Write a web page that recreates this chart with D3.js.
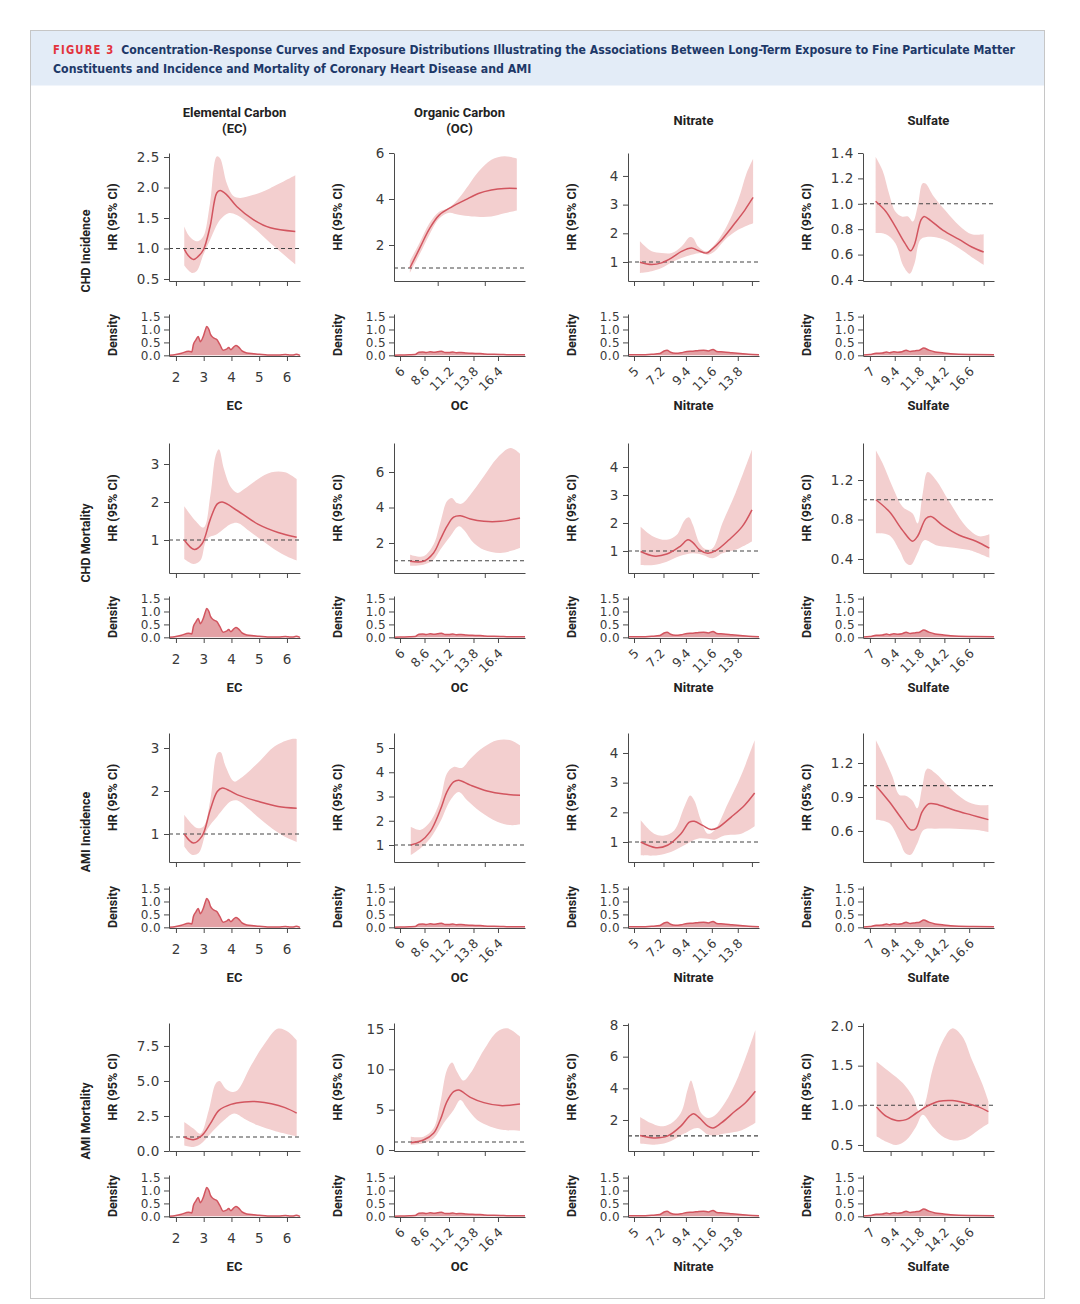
<!DOCTYPE html>
<html>
<head>
<meta charset="utf-8">
<script src="https://cdn.jsdelivr.net/npm/d3@7"></script>
<style>
  body { margin: 0; background: #fff; }
  svg { display: block; }
</style>
</head>
<body>
<div id="chart"></div>
<script>
// ---- categories / labels
var pollutants = ["EC", "OC", "Nitrate", "Sulfate"];
var columnTitles = [["Elemental Carbon", "(EC)"], ["Organic Carbon", "(OC)"], ["Nitrate"], ["Sulfate"]];
var outcomes = ["CHD Incidence", "CHD Mortality", "AMI Incidence", "AMI Mortality"];

// ---- x axis ticks (HR panels have unlabelled ticks, density panels labelled)
var hrTicksX = [[2, 3, 4, 5, 6], [10, 15], [5, 7.5, 10, 12.5, 15], [9, 12, 15, 18]];
var densTicksX = [[2, 3, 4, 5, 6], [6, 8.6, 11.2, 13.8, 16.4], [5, 7.2, 9.4, 11.6, 13.8], [7, 9.4, 11.8, 14.2, 16.6]];
var densTickLabelsX = [["2", "3", "4", "5", "6"], ["6", "8.6", "11.2", "13.8", "16.4"],
                       ["5", "7.2", "9.4", "11.6", "13.8"], ["7", "9.4", "11.8", "14.2", "16.6"]];
var densTicksY = [0, 0.5, 1, 1.5];
var densTickLabelsY = ["0.0", "0.5", "1.0", "1.5"];

// ---- y ticks of HR panels, [row][col]
var hrTicksY = [
  [[0.5, 1, 1.5, 2, 2.5], [2, 4, 6], [1, 2, 3, 4], [0.4, 0.6, 0.8, 1, 1.2, 1.4]],
  [[1, 2, 3], [2, 4, 6], [1, 2, 3, 4], [0.4, 0.8, 1.2]],
  [[1, 2, 3], [1, 2, 3, 4, 5], [1, 2, 3, 4], [0.6, 0.9, 1.2]],
  [[0, 2.5, 5, 7.5], [0, 5, 10, 15], [2, 4, 6, 8], [0.5, 1, 1.5, 2]]
];
var hrTickLabelsY = [
  [["0.5", "1.0", "1.5", "2.0", "2.5"], ["2", "4", "6"], ["1", "2", "3", "4"], ["0.4", "0.6", "0.8", "1.0", "1.2", "1.4"]],
  [["1", "2", "3"], ["2", "4", "6"], ["1", "2", "3", "4"], ["0.4", "0.8", "1.2"]],
  [["1", "2", "3"], ["1", "2", "3", "4", "5"], ["1", "2", "3", "4"], ["0.6", "0.9", "1.2"]],
  [["0.0", "2.5", "5.0", "7.5"], ["0", "5", "10", "15"], ["2", "4", "6", "8"], ["0.5", "1.0", "1.5", "2.0"]]
];

// ---- exposure densities (same in every row)
var densityEC = [[1.75,0.0],[2.0,0.03],[2.2,0.08],[2.45,0.16],[2.57,0.13],[2.63,0.42],[2.72,0.6],[2.8,0.73],[2.88,0.53],
  [2.98,0.72],[3.05,0.95],[3.11,1.12],[3.18,1.02],[3.25,0.8],[3.35,0.68],[3.48,0.6],[3.58,0.42],[3.7,0.2],[3.82,0.24],
  [3.9,0.3],[3.98,0.22],[4.06,0.3],[4.16,0.38],[4.25,0.33],[4.38,0.17],[4.55,0.09],[4.8,0.06],[5.0,0.04],[5.3,0.01],
  [5.7,0.01],[5.95,0.03],[6.05,0.02],[6.2,0.01],[6.33,0.04],[6.47,0.0]];
var densityOC = [[5.36,0.0],[6,0.01],[7,0.02],[7.6,0.03],[8.0,0.12],[8.4,0.13],[8.8,0.11],[9.2,0.14],[9.6,0.12],[10.0,0.14],
  [10.4,0.16],[10.8,0.11],[11.2,0.11],[11.6,0.13],[12.0,0.1],[12.5,0.11],[13,0.09],[13.5,0.08],[14,0.07],[14.5,0.07],
  [15,0.05],[15.5,0.04],[16,0.04],[17,0.03],[18,0.02],[19.27,0.02]];
var densityNitrate = [[4.49,0.02],[5.5,0.02],[6.5,0.04],[7.2,0.07],[7.55,0.17],[7.8,0.2],[8.1,0.12],[8.5,0.08],[9.0,0.1],
  [9.5,0.15],[10.0,0.16],[10.5,0.19],[10.9,0.2],[11.3,0.17],[11.7,0.23],[12.0,0.15],[12.6,0.13],[13.3,0.1],[14.0,0.07],
  [14.7,0.04],[15.6,0.02]];
var densitySulfate = [[6.33,0.01],[7.0,0.03],[7.6,0.08],[8.2,0.09],[8.6,0.13],[8.9,0.1],[9.3,0.14],[9.7,0.12],[10.1,0.14],
  [10.5,0.2],[10.9,0.15],[11.4,0.18],[11.8,0.2],[12.2,0.28],[12.7,0.2],[13.3,0.13],[14.0,0.1],[14.8,0.06],[15.6,0.04],
  [17,0.03],[19.0,0.02]];
var densities = [densityEC, densityOC, densityNitrate, densitySulfate];

// ---- hazard ratio curves: fit, upper and lower 95% CI, [concentration, HR]
var chdIncEC = {
  fit: [[2.3,0.99],[2.45,0.88],[2.63,0.82],[2.8,0.87],[2.99,0.98],[3.23,1.36],[3.47,1.91],[3.59,1.95],[3.83,1.88],[4.19,1.69],[4.8,1.47],[5.4,1.34],[6.3,1.28]],
  upper: [[2.3,1.36],[2.45,1.22],[2.63,1.14],[2.8,1.12],[2.99,1.2],[3.23,1.75],[3.47,2.51],[3.59,2.48],[3.83,2.07],[4.07,1.86],[4.31,1.83],[4.8,1.88],[5.4,1.99],[6.3,2.2]],
  lower: [[2.3,0.72],[2.57,0.6],[2.75,0.63],[2.99,0.9],[3.23,1.14],[3.59,1.47],[3.89,1.58],[4.19,1.55],[4.8,1.34],[5.4,1.09],[6.3,0.74]]
};
var chdIncOC = {
  fit: [[7.04,1.0],[8.08,1.85],[9.12,2.7],[10.16,3.3],[11.55,3.67],[12.93,3.96],[14.32,4.24],[15.7,4.39],[17.09,4.46],[18.4,4.46]],
  upper: [[7.04,1.3],[8.08,2.1],[9.12,2.95],[10.16,3.45],[11.2,3.62],[12.24,4.03],[13.28,4.6],[14.32,5.18],[15.7,5.71],[17.09,5.86],[18.4,5.76]],
  lower: [[7.04,0.78],[8.08,1.6],[9.12,2.45],[10.16,3.15],[11.2,3.4],[12.24,3.31],[13.63,3.24],[15.7,3.24],[17.09,3.38],[18.4,3.5]]
};
var chdIncNitrate = {
  fit: [[5.5,0.99],[6.5,0.91],[7.34,0.97],[8.19,1.14],[9.03,1.37],[9.88,1.49],[10.44,1.4],[11.15,1.31],[11.57,1.43],[12.42,1.77],[13.55,2.35],[14.4,2.81],[15.1,3.25]],
  upper: [[5.5,1.72],[6.5,1.37],[7.34,1.31],[8.19,1.31],[9.03,1.54],[9.74,1.87],[10.02,1.83],[10.44,1.54],[11.15,1.37],[11.7,1.54],[12.7,2.12],[13.83,3.16],[14.53,4.08],[15.1,4.6]],
  lower: [[5.5,0.62],[6.5,0.68],[7.34,0.79],[8.19,0.99],[9.03,1.14],[9.88,1.25],[10.73,1.31],[11.29,1.25],[11.85,1.37],[12.7,1.77],[13.83,2.12],[15.1,2.35]]
};
var chdIncSulfate = {
  fit: [[7.55,1.02],[8.54,0.94],[9.46,0.82],[10.38,0.69],[10.94,0.63],[11.31,0.68],[11.92,0.87],[12.23,0.9],[12.85,0.87],[14.08,0.79],[15.62,0.72],[16.85,0.66],[18.0,0.62]],
  upper: [[7.55,1.37],[8.23,1.26],[8.85,1.08],[9.46,0.94],[10.08,0.9],[10.69,0.9],[11.15,0.86],[11.62,0.98],[12.08,1.16],[12.38,1.16],[13.15,1.06],[14.38,0.94],[15.62,0.83],[16.85,0.76],[18.0,0.76]],
  lower: [[7.55,0.77],[8.54,0.76],[9.46,0.69],[10.23,0.51],[10.85,0.45],[11.31,0.53],[11.92,0.72],[12.85,0.74],[14.08,0.72],[15.62,0.65],[16.85,0.58],[18.0,0.52]]
};

var chdMortEC = {
  fit: [[2.3,1.0],[2.66,0.75],[2.94,0.9],[3.24,1.55],[3.49,1.95],[3.67,2.0],[4.22,1.77],[4.95,1.42],[5.68,1.2],[6.35,1.07]],
  upper: [[2.3,1.89],[2.7,1.51],[3.0,1.33],[3.24,2.17],[3.43,3.22],[3.55,3.39],[3.73,2.87],[3.98,2.39],[4.22,2.24],[4.46,2.34],[4.95,2.6],[5.44,2.78],[5.93,2.78],[6.35,2.6]],
  lower: [[2.3,0.5],[2.63,0.37],[2.88,0.46],[3.12,1.03],[3.49,1.16],[3.98,1.42],[4.22,1.45],[4.71,1.2],[5.44,0.81],[5.93,0.59],[6.35,0.46]]
};
var chdMortOC = {
  fit: [[7.07,0.97],[8.49,0.97],[9.56,1.44],[10.27,2.19],[10.98,2.94],[11.69,3.46],[12.41,3.54],[13.47,3.35],[14.9,3.22],[16.68,3.22],[18.74,3.41]],
  upper: [[7.07,1.34],[8.49,1.25],[9.56,1.91],[10.27,3.13],[10.98,4.35],[11.5,4.54],[12.05,4.25],[12.58,4.22],[13.47,4.72],[14.9,5.76],[16.32,6.79],[17.74,7.35],[18.74,7.03]],
  lower: [[7.07,0.72],[8.49,0.78],[9.56,1.06],[10.27,1.62],[11.34,2.38],[12.23,2.94],[12.76,2.75],[13.83,2.0],[14.9,1.62],[16.68,1.44],[18.74,1.72]]
};
var chdMortNitrate = {
  fit: [[5.56,0.98],[6.67,0.82],[7.78,0.89],[8.89,1.16],[9.58,1.4],[10.0,1.3],[10.56,1.04],[11.25,0.92],[11.94,1.01],[13.06,1.4],[14.17,1.87],[15.0,2.47]],
  upper: [[5.56,1.87],[6.67,1.51],[7.78,1.4],[8.61,1.57],[9.31,2.11],[9.67,2.2],[10.0,1.93],[10.56,1.28],[11.11,1.06],[11.67,1.1],[12.5,2.0],[13.61,3.07],[15.0,4.62]],
  lower: [[5.56,0.5],[6.67,0.5],[7.78,0.62],[8.89,0.82],[10.0,0.92],[10.83,0.86],[11.67,0.74],[12.5,0.92],[13.61,1.04],[15.0,1.34]]
};
var chdMortSulfate = {
  fit: [[7.58,1.0],[8.87,0.88],[10.16,0.69],[11.13,0.58],[11.61,0.63],[12.42,0.81],[12.9,0.83],[14.03,0.74],[15.65,0.64],[17.26,0.58],[18.55,0.51]],
  upper: [[7.58,1.5],[8.23,1.37],[9.19,1.13],[10.16,0.93],[11.13,0.86],[11.61,0.76],[12.1,1.06],[12.58,1.28],[13.39,1.2],[14.68,0.98],[16.29,0.73],[17.58,0.63],[18.55,0.65]],
  lower: [[7.58,0.66],[8.87,0.64],[9.84,0.49],[10.48,0.36],[10.97,0.34],[11.61,0.46],[12.26,0.59],[13.39,0.54],[14.68,0.52],[16.61,0.49],[18.55,0.41]]
};

var amiIncEC = {
  fit: [[2.3,1.0],[2.63,0.79],[2.94,0.95],[3.24,1.57],[3.49,1.99],[3.67,2.07],[4.22,1.91],[4.95,1.76],[5.68,1.64],[6.35,1.6]],
  upper: [[2.3,1.45],[2.76,1.14],[3.0,1.18],[3.24,1.8],[3.49,2.88],[3.61,2.9],[3.79,2.57],[4.1,2.22],[4.34,2.3],[4.95,2.65],[5.56,3.04],[6.17,3.21],[6.35,3.21]],
  lower: [[2.3,0.71],[2.57,0.52],[2.82,0.56],[3.12,1.1],[3.49,1.41],[3.98,1.76],[4.22,1.78],[4.59,1.6],[5.2,1.26],[5.8,0.98],[6.35,0.81]]
};
var amiIncOC = {
  fit: [[7.14,1.0],[8.14,1.14],[9.2,1.55],[10.27,2.44],[10.98,3.19],[11.69,3.6],[12.23,3.67],[13.47,3.47],[15.25,3.23],[17.03,3.1],[18.74,3.05]],
  upper: [[7.14,1.75],[8.14,1.62],[9.2,1.96],[10.27,2.85],[10.98,3.95],[11.69,4.22],[12.58,4.18],[13.47,4.56],[14.9,5.04],[16.32,5.32],[17.74,5.32],[18.74,5.11]],
  lower: [[7.14,0.59],[8.14,0.86],[9.2,1.27],[10.27,1.96],[11.34,2.85],[12.23,3.19],[13.12,2.85],[14.54,2.37],[16.32,1.96],[17.74,1.82],[18.74,1.86]]
};
var amiIncNitrate = {
  fit: [[5.57,1.0],[6.85,0.81],[7.84,0.89],[8.98,1.28],[9.69,1.67],[10.11,1.7],[10.82,1.56],[11.53,1.42],[12.1,1.48],[13.24,1.84],[14.38,2.24],[15.23,2.65]],
  upper: [[5.57,1.73],[6.7,1.28],[7.56,1.22],[8.41,1.39],[9.26,2.18],[9.77,2.57],[10.11,2.4],[10.68,1.73],[11.25,1.28],[11.82,1.39],[12.95,2.29],[14.09,3.25],[15.23,4.43]],
  lower: [[5.57,0.55],[6.99,0.55],[8.13,0.66],[9.26,0.89],[10.4,1.11],[11.25,1.11],[11.82,1.08],[12.67,1.22],[14.09,1.28],[15.23,1.53]]
};
var amiIncSulfate = {
  fit: [[7.58,1.0],[8.86,0.86],[10.14,0.7],[10.94,0.61],[11.42,0.62],[12.06,0.77],[12.7,0.84],[13.66,0.83],[15.26,0.78],[16.86,0.74],[18.46,0.7]],
  upper: [[7.58,1.4],[8.22,1.28],[9.18,1.08],[9.82,0.92],[10.46,0.91],[11.1,0.87],[11.58,0.8],[12.06,0.99],[12.54,1.15],[13.34,1.11],[14.62,0.99],[16.22,0.87],[17.5,0.83],[18.46,0.83]],
  lower: [[7.58,0.7],[8.86,0.67],[9.82,0.52],[10.46,0.4],[10.94,0.39],[11.58,0.49],[12.22,0.61],[13.34,0.62],[15.26,0.62],[17.18,0.61],[18.46,0.59]]
};

var amiMortEC = {
  fit: [[2.3,1.0],[2.63,0.81],[2.94,1.12],[3.24,1.95],[3.55,2.9],[3.98,3.33],[4.46,3.5],[4.95,3.52],[5.44,3.38],[5.93,3.1],[6.35,2.71]],
  upper: [[2.3,2.07],[2.63,1.6],[2.88,1.24],[3.18,2.9],[3.43,4.81],[3.57,5.0],[3.79,4.45],[4.04,4.21],[4.22,4.33],[4.71,6.12],[5.2,7.67],[5.68,8.74],[6.05,8.5],[6.35,7.9]],
  lower: [[2.3,0.4],[2.63,0.29],[2.88,0.48],[3.24,1.24],[3.73,2.19],[4.1,2.67],[4.46,2.31],[4.95,1.83],[5.56,1.43],[6.35,1.05]]
};
var amiMortOC = {
  fit: [[7.14,0.91],[8.49,1.24],[9.56,2.07],[10.27,3.72],[10.98,5.99],[11.69,7.23],[12.23,7.44],[13.47,6.53],[14.9,5.87],[16.68,5.5],[18.74,5.7]],
  upper: [[7.14,1.65],[8.49,1.65],[9.56,2.69],[10.27,5.79],[10.98,9.92],[11.52,10.83],[12.05,9.71],[12.76,8.6],[13.47,9.5],[14.9,12.4],[16.32,14.67],[17.39,15.08],[18.74,14.05]],
  lower: [[7.14,0.62],[8.49,0.83],[9.56,1.45],[10.63,3.31],[11.69,4.96],[12.41,6.2],[13.12,5.17],[14.19,3.72],[15.61,2.89],[17.03,2.48],[18.74,2.4]]
};
var amiMortNitrate = {
  fit: [[5.52,1.02],[6.67,0.87],[7.82,0.98],[8.97,1.61],[9.68,2.23],[10.06,2.4],[10.55,2.13],[11.26,1.61],[11.7,1.5],[12.41,1.82],[13.56,2.55],[14.43,3.07],[15.29,3.81]],
  upper: [[5.52,2.19],[6.38,1.82],[7.24,1.61],[8.1,1.77],[8.97,2.44],[9.54,3.91],[9.83,4.5],[10.11,3.91],[10.69,2.44],[11.26,2.13],[11.84,2.28],[12.7,3.07],[13.85,4.75],[15.29,7.69]],
  lower: [[5.52,0.52],[6.95,0.45],[8.1,0.66],[9.25,1.14],[10.4,1.5],[11.26,1.08],[11.84,1.02],[12.7,1.14],[14.14,1.35],[15.29,1.82]]
};
var amiMortSulfate = {
  fit: [[7.64,0.98],[8.59,0.86],[9.55,0.81],[10.5,0.82],[11.46,0.9],[12.41,0.98],[13.69,1.05],[14.96,1.06],[16.24,1.03],[17.51,0.98],[18.46,0.92]],
  upper: [[7.64,1.55],[8.91,1.42],[10.18,1.28],[11.14,1.11],[11.78,0.92],[12.25,1.0],[13.05,1.45],[14.0,1.8],[14.96,1.97],[15.92,1.87],[16.87,1.57],[17.83,1.28],[18.46,1.05]],
  lower: [[7.64,0.61],[8.59,0.54],[9.55,0.5],[10.5,0.56],[11.46,0.73],[12.1,0.88],[13.05,0.73],[14.0,0.61],[14.96,0.56],[16.24,0.58],[17.51,0.69],[18.46,0.77]]
};

var panels = [
  [chdIncEC, chdIncOC, chdIncNitrate, chdIncSulfate],
  [chdMortEC, chdMortOC, chdMortNitrate, chdMortSulfate],
  [amiIncEC, amiIncOC, amiIncNitrate, amiIncSulfate],
  [amiMortEC, amiMortOC, amiMortNitrate, amiMortSulfate]
];

// ---- layout
var W = 1080, H = 1304;
var colAxisX = [169, 394, 628, 863];
var plotW = 131;
var rowLayout = [
  {top: 153, bottom: 281, densBottom: 356},
  {top: 443, bottom: 573, densBottom: 638},
  {top: 733, bottom: 862, densBottom: 928},
  {top: 1023, bottom: 1151, densBottom: 1217}
];
var xDomains = [[1.75, 6.47], [5.36, 19.27], [4.49, 15.6], [6.33, 19.0]];
var yDomains = [
  [[0.467, 2.566], [0.435, 6.0], [0.337, 4.8], [0.392, 1.4]],
  [[0.132, 3.553], [0.31, 7.634], [0.214, 4.857], [0.258, 1.575]],
  [[0.349, 3.349], [0.299, 5.619], [0.326, 4.674], [0.326, 1.465]],
  [[0, 9.14], [-0.124, 15.74], [0.042, 8.126], [0.424, 2.038]]
];

var bandFill = "#f3cfcf", lineCol = "#d2555f", densFill = "#e3a1a5", axisCol = "#4a4a4a", tickText = "#3a3a3a";
var labelFont = "Roboto, 'Open Sans', sans-serif";
var tickFont = "'DejaVu Sans', sans-serif";

var svg = d3.select("#chart").append("svg")
    .attr("width", W)
    .attr("height", H);

// header band + frame
svg.append("rect")
    .attr("x", 30.5).attr("y", 30.5).attr("width", 1014).attr("height", 55)
    .attr("fill", "#e3ecf7");
svg.append("rect")
    .attr("x", 30.5).attr("y", 30.5).attr("width", 1014).attr("height", 1268)
    .attr("fill", "none").attr("stroke", "#c6c6c6");

// title: condensed bold, squeezed to the frame width
var titleFont = "'Liberation Sans Narrow', 'DejaVu Sans Condensed', Roboto, sans-serif";
var t1 = svg.append("text").attr("x", 53).attr("y", 54)
    .style("font-family", titleFont).style("font-weight", "bold").style("font-size", "12.5px");
t1.append("tspan").attr("fill", "#e2333d").style("font-size", "11.5px").style("letter-spacing", "1.2px").text("FIGURE 3");
t1.append("tspan").attr("dx", 7).attr("fill", "#1d3868")
    .text("Concentration-Response Curves and Exposure Distributions Illustrating the Associations Between Long-Term Exposure to Fine Particulate Matter");
var t2 = svg.append("text").attr("x", 53).attr("y", 73)
    .style("font-family", titleFont).style("font-weight", "bold").style("font-size", "12.5px")
    .attr("fill", "#1d3868")
    .text("Constituents and Incidence and Mortality of Coronary Heart Disease and AMI");
var ratio = 962 / t1.node().getComputedTextLength();
var w2 = t2.node().getComputedTextLength() * ratio;
t1.attr("textLength", 962).attr("lengthAdjust", "spacingAndGlyphs");
t2.attr("textLength", w2).attr("lengthAdjust", "spacingAndGlyphs");

// column titles
columnTitles.forEach(function(lines, c) {
  var cx = colAxisX[c] + plotW / 2;
  var txt = svg.append("text")
      .attr("text-anchor", "middle")
      .style("font-family", labelFont).style("font-weight", "bold").style("font-size", "13px")
      .attr("fill", "#222");
  if (lines.length === 2) {
    txt.append("tspan").attr("x", cx).attr("y", 117).text(lines[0]);
    txt.append("tspan").attr("x", cx).attr("y", 133).text(lines[1]);
  } else {
    txt.append("tspan").attr("x", cx).attr("y", 125).text(lines[0]);
  }
});

var curve = d3.curveCatmullRom.alpha(0.5);

outcomes.forEach(function(outcome, r) {
  var L = rowLayout[r];

  svg.append("text")
      .attr("transform", "translate(90," + (L.bottom - 30) + ") rotate(-90)")
      .attr("text-anchor", "middle")
      .style("font-family", labelFont).style("font-weight", "bold").style("font-size", "12.5px")
      .attr("fill", "#222")
      .text(outcome);

  pollutants.forEach(function(p, c) {
    var x0 = colAxisX[c];
    var x = d3.scaleLinear().domain(xDomains[c]).range([x0, x0 + plotW]);
    var y = d3.scaleLinear().domain(yDomains[r][c]).range([L.bottom, L.top]);
    var d = panels[r][c];
    var g = svg.append("g");

    var line = d3.line()
        .x(function(v) { return x(v[0]); })
        .y(function(v) { return y(v[1]); })
        .curve(curve);

    // CI band
    var band = line(d.upper) + line(d.lower.slice().reverse()).replace(/^M/, "L") + "Z";
    g.append("path").attr("d", band).attr("fill", bandFill);

    // reference line HR = 1
    g.append("line")
        .attr("x1", x0).attr("x2", x0 + plotW)
        .attr("y1", y(1)).attr("y2", y(1))
        .attr("stroke", "#444").attr("stroke-width", 1.1)
        .attr("stroke-dasharray", "4,3");

    g.append("path").attr("d", line(d.fit))
        .attr("fill", "none").attr("stroke", lineCol).attr("stroke-width", 1.5);

    // axes
    var yAxis = g.append("g")
        .attr("transform", "translate(" + x0 + ",0)")
        .attr("color", axisCol)
        .call(d3.axisLeft(y).tickValues(hrTicksY[r][c])
          .tickFormat(function(v, i) { return hrTickLabelsY[r][c][i]; })
          .tickSize(5).tickSizeOuter(0).tickPadding(4));
    yAxis.selectAll("text")
        .attr("fill", tickText)
        .style("font-family", tickFont).style("font-size", "13.5px").style("letter-spacing", "0.6px");

    g.append("g")
        .attr("transform", "translate(0," + L.bottom + ")")
        .attr("color", axisCol)
        .call(d3.axisBottom(x).tickValues(hrTicksX[c]).tickFormat("").tickSize(5).tickSizeOuter(0));

    g.append("text")
        .attr("transform", "translate(" + (x0 - 52) + "," + ((L.top + L.bottom) / 2) + ") rotate(-90)")
        .attr("text-anchor", "middle")
        .style("font-family", labelFont).style("font-weight", "bold").style("font-size", "12.5px")
        .attr("fill", "#222")
        .text("HR (95% CI)");

    // density panel
    var yd = d3.scaleLinear().domain([-0.026, 1.6]).range([L.densBottom, L.densBottom - 42]);
    var area = d3.area()
        .x(function(v) { return x(v[0]); })
        .y0(yd(0))
        .y1(function(v) { return yd(v[1]); })
        .curve(d3.curveMonotoneX);
    var dline = d3.line()
        .x(function(v) { return x(v[0]); })
        .y(function(v) { return yd(v[1]); })
        .curve(d3.curveMonotoneX);
    g.append("path").attr("d", area(densities[c])).attr("fill", densFill);
    g.append("path").attr("d", dline(densities[c]))
        .attr("fill", "none").attr("stroke", lineCol).attr("stroke-width", 1.5);

    var ydAxis = g.append("g")
        .attr("transform", "translate(" + x0 + ",0)")
        .attr("color", axisCol)
        .call(d3.axisLeft(yd).tickValues(densTicksY)
          .tickFormat(function(v, i) { return densTickLabelsY[i]; })
          .tickSize(5).tickSizeOuter(0).tickPadding(3));
    ydAxis.selectAll("text")
        .attr("fill", tickText)
        .style("font-family", tickFont).style("font-size", "12px").style("letter-spacing", "0.4px");

    var xdAxis = g.append("g")
        .attr("transform", "translate(0," + L.densBottom + ")")
        .attr("color", axisCol)
        .call(d3.axisBottom(x).tickValues(densTicksX[c])
          .tickFormat(function(v, i) { return densTickLabelsX[c][i]; })
          .tickSize(5).tickSizeOuter(0));
    var xt = xdAxis.selectAll("text")
        .attr("fill", tickText)
        .style("font-family", tickFont);
    if (c === 0) {
      xt.attr("y", 21).attr("dy", "0.35em").style("font-size", "13.5px").style("letter-spacing", "0.6px");
    } else {
      xt.attr("y", null).attr("dy", "0.35em")
        .attr("text-anchor", "end")
        .attr("transform", "translate(2,13) rotate(-45)")
        .style("font-size", "12.5px");
    }

    g.append("text")
        .attr("transform", "translate(" + (x0 - 52) + "," + (L.densBottom - 21) + ") rotate(-90)")
        .attr("text-anchor", "middle")
        .style("font-family", labelFont).style("font-weight", "bold").style("font-size", "12.5px")
        .attr("fill", "#222")
        .text("Density");

    g.append("text")
        .attr("x", x0 + plotW / 2).attr("y", L.densBottom + 54)
        .attr("text-anchor", "middle")
        .style("font-family", labelFont).style("font-weight", "bold").style("font-size", "13px")
        .attr("fill", "#222")
        .text(p);
  });
});
</script>
</body>
</html>
